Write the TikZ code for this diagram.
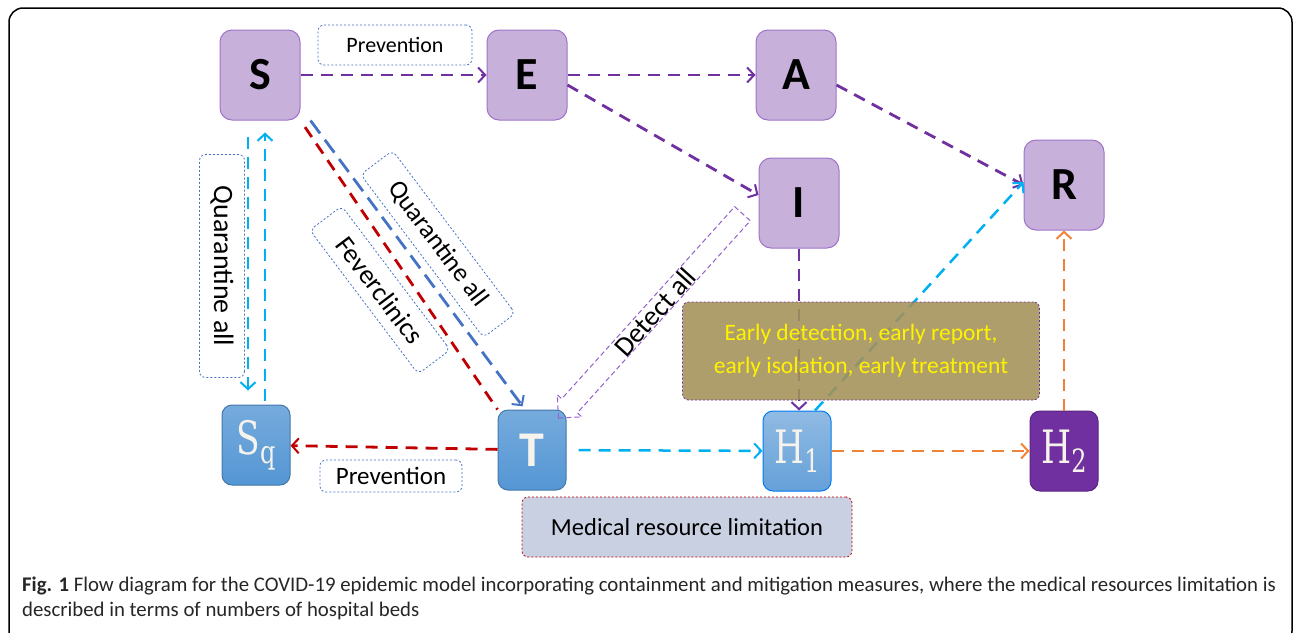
\documentclass[tikz,border=0pt]{standalone}
\usepackage{fontspec}
\setmainfont{Carlito}
\newfontfamily\hfont[FakeStretch=0.75]{DejaVu Serif}
\usetikzlibrary{arrows.meta,shapes.arrows}

\definecolor{boxpurple}{RGB}{199,176,218}
\definecolor{edgepurple}{RGB}{160,115,200}
\definecolor{arrpurple}{RGB}{112,48,160}
\definecolor{detpurple}{RGB}{150,95,205}
\definecolor{skyline}{RGB}{0,176,240}
\definecolor{redline}{RGB}{192,0,0}
\definecolor{blueline}{RGB}{68,114,196}
\definecolor{orangeline}{RGB}{240,130,55}
\definecolor{boxblue}{RGB}{84,150,212}
\definecolor{earlybox}{RGB}{163,145,88}
\definecolor{medbox}{RGB}{200,208,226}
\definecolor{hwhite}{RGB}{245,243,235}

\tikzset{
  state/.style={draw=edgepurple, fill=boxpurple, line width=1pt, rounded corners=12pt,
    minimum width=80pt, minimum height=90pt, font=\fontsize{46}{46}\selectfont\bfseries},
  bluestate/.style={draw=boxblue!80!black, top color=boxblue!80!white, bottom color=boxblue,
    line width=1pt, rounded corners=10pt, minimum width=68pt, minimum height=80pt, text=hwhite},
  tag/.style={draw=blueline, line width=0.8pt, dash pattern=on 2pt off 2pt, rounded corners=6pt,
    inner sep=0pt, font=\fontsize{22}{22}\selectfont},
  flow/.style={line width=2.8pt, dash pattern=on 12pt off 8pt,
    -{Straight Barb[length=7pt,width=15pt,line width=2pt]}}
}

\begin{document}
\begin{tikzpicture}[x=1pt,y=-1pt]
  \useasboundingbox (0,0) rectangle (1295,632);
  \draw[overlay, line width=1.5pt, rounded corners=14pt] (9,8) rectangle (1292,645);

  % compartments
  \node[state] (S) at (260,75) {S};
  \node[state] (E) at (527,75) {E};
  \node[state] (A) at (796,75) {A};
  \node[state] (I) at (799,203) {I};
  \node[state] (R) at (1064,185) {R};
  \node[bluestate] (Sq) at (256,445) {\hfont\fontsize{46}{46}\selectfont S\raisebox{-9pt}{\fontsize{32}{32}\selectfont q}};
  \node[bluestate, font=\fontsize{50}{50}\selectfont\bfseries] (T) at (532,450) {T};
  \node[bluestate, top color=boxblue!65!white, bottom color=boxblue!90!white, draw=skyline!70!blue]
    (H1) at (797,451) {\hfont\fontsize{46}{46}\selectfont H\raisebox{-9pt}{\fontsize{32}{32}\selectfont 1}};
  \node[bluestate, top color=arrpurple, bottom color=arrpurple, draw=arrpurple!80!black]
    (H2) at (1064,451) {\hfont\fontsize{46}{46}\selectfont H\raisebox{-9pt}{\fontsize{32}{32}\selectfont 2}};

  % measures
  \node[tag, minimum width=154pt, minimum height=40pt] (prevtop) at (395,45) {Prevention};
  \node[tag, minimum width=142pt, minimum height=32pt, font=\fontsize{25}{25}\selectfont] (prevbot) at (391,476) {Prevention};
  \node[tag, rotate=-90, minimum width=223pt, minimum height=45pt, font=\fontsize{28}{28}\selectfont] (quarS) at (222,266) {Quarantine all};
  \node[tag, rotate=-53, minimum width=180pt, minimum height=40pt, font=\fontsize{27}{27}\selectfont] (fever) at (380,290) {Feverclinics};
  \node[tag, rotate=-53, minimum width=204pt, minimum height=40pt, font=\fontsize{26}{26}\selectfont] (quarT) at (438,244) {Quarantine all};
  \node[tag, draw=redline, fill=medbox, minimum width=330pt, minimum height=60pt, font=\fontsize{24.5}{24.5}\selectfont] (med) at (687,527) {Medical resource limitation};

  % flows
  \draw[flow, arrpurple] (S) -- (E);
  \draw[flow, arrpurple] (E) -- (A);
  \draw[flow, arrpurple] ([yshift=-10pt]E.east) -- ([yshift=8pt]I.west);
  \draw[flow, arrpurple] ([yshift=-10pt]A.east) -- (R.west);
  \draw[flow, arrpurple] (I.south) -- (I.south |- H1.north);
  \draw[flow, skyline, line width=2.5pt] ([xshift=18pt]H1.north) -- ([yshift=3pt]R.west);
  \draw[flow, orangeline, line width=2.5pt] (H2.north) -- (R.south);
  \draw[flow, orangeline, line width=2.5pt] (H1) -- (H2);
  \draw[flow, skyline, line width=2.5pt, shorten <=12pt] (T) -- (H1);
  \draw[flow, redline] (T) -- (Sq);
  \draw[flow, skyline, line width=2.5pt, shorten <=16pt, shorten >=14pt]
    ([xshift=-12pt]S.south) -- ([xshift=-12pt]S.south |- Sq.north);
  \draw[flow, skyline, line width=2.5pt, shorten <=4pt, shorten >=12pt]
    ([xshift=5pt]S.south |- Sq.north) -- ([xshift=5pt]S.south);
  \draw[flow, redline, -, shorten <=8pt] (S.south east) -- (T.north west);
  \draw[flow, blueline, dash pattern=on 16pt off 8pt, shorten >=4pt] ([xshift=10pt]S.south east) -- ([xshift=-7pt]T.north);

  % detection
  \node[single arrow, draw=detpurple, line width=1pt, dash pattern=on 5pt off 3pt,
    rotate=228, minimum height=275pt, inner xsep=0pt, inner ysep=10pt,
    single arrow head extend=6pt, single arrow tip angle=90] (detarrow) at (654,312) {};
  \node[rotate=48, font=\fontsize{28}{28}\selectfont] (detect) at (655,312) {Detect all};

  \node[tag, draw=arrpurple, fill=earlybox, fill opacity=0.88, text opacity=1, text=yellow,
    minimum width=357pt, minimum height=98pt, align=center, font=\fontsize{23.5}{33}\selectfont]
    (early) at (861,351) {Early detection, early report,\\early isolation, early treatment};

  % caption
  \node[anchor=base west, align=left, inner sep=0pt, text=black!85, font=\fontsize{20.8}{25}\selectfont]
    (caption) at (22,616) {\textbf{Fig. 1} Flow diagram for the COVID-19 epidemic model incorporating containment and mitigation measures, where the medical resources limitation is\\described in terms of numbers of hospital beds};
\end{tikzpicture}
\end{document}
